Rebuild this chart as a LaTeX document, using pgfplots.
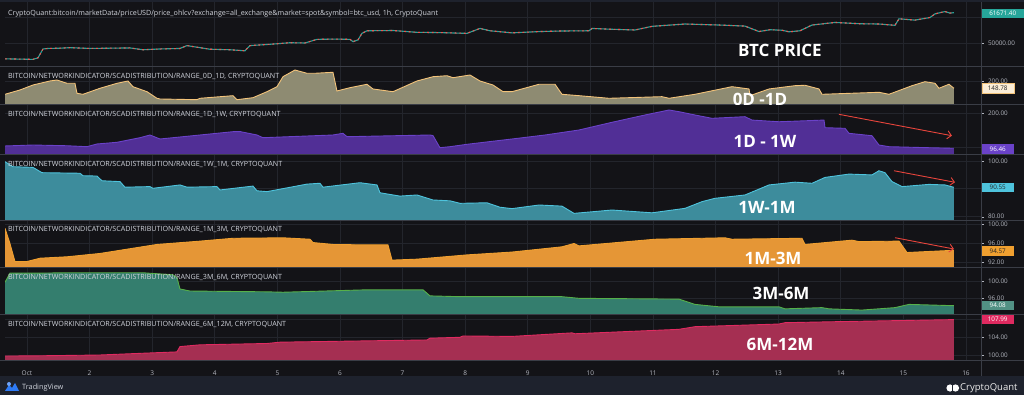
\documentclass[border=0pt]{standalone}
\usepackage{fontspec}
\setmainfont{Open Sans}
\usepackage{pgfplots}
\usepackage{pgfplotstable}
\pgfplotsset{compat=1.18}
\usetikzlibrary{arrows.meta}

\definecolor{bgc}{HTML}{131317}
\definecolor{footc}{HTML}{1E222D}
\definecolor{gridc}{HTML}{23252C}
\definecolor{sepc}{HTML}{3A3D46}
\definecolor{labc}{HTML}{B2B5BE}
\definecolor{titc}{HTML}{D1D4DC}
\definecolor{pgreen}{HTML}{26A69A}
\definecolor{pred}{HTML}{EF5350}
\definecolor{aFill}{HTML}{8E8B72}\definecolor{aLine}{HTML}{F3C37A}
\definecolor{bFill}{HTML}{512F96}\definecolor{bLine}{HTML}{6A42C8}
\definecolor{cFill}{HTML}{3D8C9C}\definecolor{cLine}{HTML}{4EC3DC}
\definecolor{dFill}{HTML}{E59636}\definecolor{dLine}{HTML}{F0A030}
\definecolor{eFill}{HTML}{347E6E}\definecolor{eLine}{HTML}{56B04A}
\definecolor{fFill}{HTML}{A52F52}\definecolor{fLine}{HTML}{E02A60}
\definecolor{arr}{HTML}{E8453C}
\definecolor{tvblue}{HTML}{2E7BF6}

\pgfplotstableread{
x y
0.649 43900
0.888 43800
1.096 43700
1.176 44300
1.256 47700
1.335 47900
1.527 48000
1.687 48200
2.006 47900
2.326 48000
2.645 48100
2.853 47400
3.125 47700
3.444 47900
3.556 49000
3.684 48500
3.923 47600
4.243 47400
4.482 47000
4.562 49000
4.882 49500
5.201 50100
5.441 50000
5.633 51400
5.920 51500
6.160 51400
6.208 50500
6.288 51200
6.351 53700
6.431 54700
6.847 54800
7.230 54100
7.597 54000
8.029 53700
8.236 55600
8.396 54700
8.748 53900
9.195 54400
9.514 54600
9.978 54700
10.026 55600
10.313 55300
10.712 55000
10.984 56400
11.511 57300
12.070 56900
12.470 56500
12.693 54400
12.869 55100
13.061 54900
13.173 54300
13.348 54700
13.540 56900
13.907 57900
14.307 57400
14.610 57300
14.866 56800
14.930 59300
15.185 58800
15.425 59800
15.505 61200
15.665 62100
15.744 61500
15.808 61671
}\tP

\pgfplotstableread{
x y
0.649 106.7
0.888 136.9
1.096 171.9
1.367 200
1.479 207
1.639 183.8
1.767 184
1.799 113.7
1.895 106.7
2.166 148.8
2.438 183.8
2.613 200
2.693 160
2.917 125
3.077 78.7
3.125 73.8
3.716 68.9
3.764 78.7
4.291 96.9
4.355 68.9
4.610 82.9
4.834 125
4.994 160
5.089 230
5.281 277
5.473 253.9
5.601 254
5.888 261
5.952 129.9
6.160 153
6.431 176.8
6.527 143.9
6.847 125
7.230 200
7.486 230
7.709 237
7.805 223
8.077 242
8.236 200
8.444 172
8.604 125
8.748 125
9.179 177
9.435 177
9.546 106.7
9.818 97
10.297 78.7
11.144 90
11.256 78.7
11.671 106.7
12.262 160
12.534 144
12.550 97
12.853 144
13.268 167
13.428 170
13.652 144
13.700 106.7
14.610 120.7
14.770 106.7
15.137 167
15.345 195
15.505 184
15.569 149
15.728 177
15.808 148.78
}\tA

\pgfplotstableread{
x y
0.649 103.3
1.096 106.2
1.639 104
1.958 101.2
2.118 109.2
2.438 114.2
2.805 127.8
2.965 135.8
3.125 124
3.764 135.8
4.291 145.6
4.403 146
4.674 135.8
4.770 127.8
5.888 135.8
6.048 140.8
6.112 130.8
7.438 135.8
7.486 134
7.597 98.2
7.757 101.2
8.029 108.3
8.748 124
9.275 135.8
9.818 150.6
10.345 173.4
10.872 195
11.256 209.8
11.415 204.8
11.671 195
11.942 185.2
12.470 190
12.581 180
13.013 175
13.732 180
13.748 157.4
14.067 155.6
14.131 140.8
14.498 133.7
14.610 106.2
14.770 101.2
15.409 98.2
15.808 96.46
}\tB

\pgfplotstableread{
x y
0.649 99.75
0.776 97.95
1.096 97.7
1.240 95.8
1.847 95.6
1.895 94.7
2.118 94.6
2.198 92.9
2.486 92.6
2.565 90.6
2.965 90.8
3.013 90.2
3.444 91.4
3.556 90.6
4.035 90.8
4.083 89.6
4.610 91.0
4.674 89.3
4.834 89.0
5.473 91.7
5.681 92.0
5.728 90.6
6.319 92.2
6.591 91.4
6.639 88.6
6.958 87.4
7.230 87.8
7.486 86.0
7.757 85.7
7.917 84.8
8.348 85.0
8.556 83.4
8.748 82.9
9.179 84.2
9.546 83.8
9.738 81.2
10.345 82.4
10.984 81.4
11.511 83.0
11.783 85.4
11.990 86.6
12.470 87.8
12.853 91.4
13.268 92.4
13.540 92.0
13.748 94.1
14.131 95.3
14.498 95.0
14.610 96.5
14.706 95.8
14.818 92.6
14.978 90.8
15.409 91.6
15.665 91.4
15.808 90.55
}\tC

\pgfplotstableread{
x y
0.649 99.2
0.728 96.0
0.808 92.2
1.000 92.2
1.208 92.9
1.639 93.2
2.166 93.9
2.693 95.0
3.077 95.8
3.764 96.5
4.291 97.1
5.089 97.2
5.521 96.9
5.569 96.2
5.888 95.8
6.431 95.7
6.767 95.7
6.831 92.5
7.230 92.7
8.029 93.6
8.748 94.2
9.546 95.3
9.738 96.0
9.818 95.5
11.032 96.9
12.150 97.2
12.262 96.9
13.380 97.1
13.428 95.8
14.179 96.7
14.291 96.4
14.930 96.5
15.058 94.1
15.808 94.57
}\tD

\pgfplotstableread{
x y
0.649 99.85
0.728 102.1
1.096 102.1
1.639 102.2
2.853 102.2
3.332 101.7
3.396 101.0
3.444 98.2
3.604 97.7
4.834 97.5
5.089 97.4
6.431 98.0
7.326 98.0
7.438 96.5
7.917 96.3
8.748 96.3
9.546 96.3
9.818 95.9
11.415 95.7
11.671 94.4
12.054 93.8
13.013 93.8
13.109 93.3
13.700 93.6
13.812 93.3
14.339 93.0
14.866 93.6
15.089 94.4
15.808 94.08
}\tE

\pgfplotstableread{
x y
0.649 99.77
1.096 99.8
2.166 100
2.853 100.4
3.396 100.7
3.444 101.9
3.764 102.3
4.834 102.6
5.042 102.9
7.390 103.4
7.438 103.8
7.917 104.0
7.965 104.3
8.748 104.2
9.706 105.0
9.754 104.8
11.415 105.8
11.671 106.4
13.013 107.0
13.109 107.3
13.812 107.5
15.808 108.0
}\tF

\pgfplotsset{
 pane/.style={
  scale only axis, width=976pt, xmin=0.649, xmax=16.24,
  anchor=south west,
  axis line style={draw=none},
  xtick={1,...,16}, xticklabels={},
  xmajorgrids, ymajorgrids,
  grid style={draw=gridc, line width=0.7pt},
  xtick style={draw=none},
  ytick pos=right, tick align=outside, major tick length=3pt,
  ytick style={draw=labc, line width=0.4pt},
  scaled y ticks=false,
  yticklabel style={font=\fontsize{6.3}{7}\selectfont, text=labc, xshift=0.5pt,
    /pgf/number format/fixed, /pgf/number format/fixed zerofill,
    /pgf/number format/precision=2, /pgf/number format/1000 sep={},
    /pgf/number format/assume math mode=true},
 }
}
\tikzset{
 ttl/.style={anchor=base west, text=titc, font=\fontsize{7.15}{8}\selectfont, inner sep=0pt},
 big/.style={anchor=base, text=white, font=\bfseries\fontsize{17}{20}\selectfont, inner sep=0pt},
 badge/.style={anchor=west, font=\fontsize{6.3}{7}\selectfont, minimum height=9.5pt, minimum width=32pt, inner sep=1pt},
 arrw/.style={draw=arr, line width=0.9pt, -{Straight Barb[length=4pt,width=8pt]}},
}

\begin{document}
\begin{tikzpicture}
\fill[bgc] (0,0) rectangle (1024pt,395pt);
\useasboundingbox (0,0) rectangle (1024pt,395pt);
\fill[footc] (0,393pt) rectangle (1024pt,395pt);

% price
\begin{axis}[pane, at={(5pt,329pt)}, height=64pt, ymin=41154, ymax=65769, ytick={50000,60000},
  yticklabels={50000.00,{}}]
\addplot[pgreen, line width=1.1pt] table[x=x,y=y]{\tP};
\addplot[pred, line width=1.1pt, dash pattern=on 1.8pt off 2.8pt] table[x=x,y=y]{\tP};
\end{axis}

% 0D-1D
\begin{axis}[pane, at={(5pt,291pt)}, height=37pt, ymin=38.7, ymax=298.1, ytick={200}]
\addplot[fill=aFill, draw=none] table[x=x,y=y]{\tA} \closedcycle;
\addplot[aLine, line width=0.9pt] table[x=x,y=y]{\tA};
\end{axis}

% 1D-1W
\begin{axis}[pane, at={(5pt,241pt)}, height=49pt, ymin=79.6, ymax=224.6, ytick={100,200}]
\addplot[fill=bFill, draw=none] table[x=x,y=y]{\tB} \closedcycle;
\addplot[bLine, line width=0.9pt] table[x=x,y=y]{\tB};
\draw[arrw] (axis cs:13.971,197) -- (axis cs:15.776,133.7);
\end{axis}

% 1W-1M
\begin{axis}[pane, at={(5pt,175pt)}, height=65pt, ymin=78.82, ymax=102.15, ytick={80,90,100}]
\addplot[fill=cFill, draw=none] table[x=x,y=y]{\tC} \closedcycle;
\addplot[cLine, line width=0.9pt] table[x=x,y=y]{\tC};
\draw[arrw] (axis cs:14.850,96.5) -- (axis cs:15.824,92.35);
\end{axis}

% 1M-3M
\begin{axis}[pane, at={(5pt,128pt)}, height=46pt, ymin=91.05, ymax=100.74, ytick={92,96,100}]
\addplot[fill=dFill, draw=none] table[x=x,y=y]{\tD} \closedcycle;
\addplot[dLine, line width=0.9pt] table[x=x,y=y]{\tD};
\draw[arrw] (axis cs:14.866,97.22) -- (axis cs:15.808,94.84);
\end{axis}

% 3M-6M
\begin{axis}[pane, at={(5pt,81pt)}, height=46pt, ymin=92.03, ymax=103.38, ytick={96,100}]
\addplot[fill=eFill, draw=none] table[x=x,y=y]{\tE} \closedcycle;
\addplot[eLine, line width=0.9pt] table[x=x,y=y]{\tE};
\end{axis}

% 6M-12M
\begin{axis}[pane, at={(5pt,35pt)}, height=45pt, ymin=98.87, ymax=109.04, ytick={100,104,108},
  xticklabels={Oct,2,3,4,5,6,7,8,9,10,11,12,13,14,15,16},
  xticklabel style={font=\fontsize{6.5}{7}\selectfont, text=labc, anchor=base, yshift=-12.5pt}]
\addplot[fill=fFill, draw=none] table[x=x,y=y]{\tF} \closedcycle;
\addplot[fLine, line width=0.9pt] table[x=x,y=y]{\tF};
\end{axis}

% separators
\foreach \yy in {328.5,290.5,240.5,174.5,127.5,80.5,34.5}
  \draw[sepc, line width=0.9pt] (0,\yy pt) -- (1024pt,\yy pt);
\draw[sepc, line width=0.9pt] (981.5pt,19pt) -- (981.5pt,393pt);

% titles
\node[ttl] at (8pt,379.3pt) {CryptoQuant:bitcoin/marketData/priceUSD/price\_ohlcv?exchange=all\_exchange\&market=spot\&symbol=btc\_usd, 1h, CryptoQuant};
\node[ttl] at (8pt,316.6pt) {BITCOIN/NETWORKINDICATOR/SCADISTRIBUTION/RANGE\_0D\_1D, CRYPTOQUANT};
\node[ttl] at (8pt,278.6pt) {BITCOIN/NETWORKINDICATOR/SCADISTRIBUTION/RANGE\_1D\_1W, CRYPTOQUANT};
\node[ttl] at (8pt,228.6pt) {BITCOIN/NETWORKINDICATOR/SCADISTRIBUTION/RANGE\_1W\_1M, CRYPTOQUANT};
\node[ttl] at (8pt,163.6pt) {BITCOIN/NETWORKINDICATOR/SCADISTRIBUTION/RANGE\_1M\_3M, CRYPTOQUANT};
\node[ttl] at (8pt,115.6pt) {BITCOIN/NETWORKINDICATOR/SCADISTRIBUTION/RANGE\_3M\_6M, CRYPTOQUANT};
\node[ttl] at (8pt,68.6pt) {BITCOIN/NETWORKINDICATOR/SCADISTRIBUTION/RANGE\_6M\_12M, CRYPTOQUANT};

% big labels
\node[big] at (780pt,338.5pt) {BTC PRICE};
\begin{scope}
\clip (0,290.5pt) rectangle (1024pt,328pt);
\node[big] at (760pt,289pt) {0D -1D};
\end{scope}
\node[big] at (765pt,247pt) {1D - 1W};
\node[big] at (767pt,181pt) {1W-1M};
\node[big] at (773pt,130.5pt) {1M-3M};
\node[big] at (781pt,95.2pt) {3M-6M};
\node[big] at (780pt,44.2pt) {6M-12M};

% badges
\node[badge, fill=pgreen, text=white, minimum width=42pt] at (981.5pt,381.7pt) {61671.40};
\node[badge, fill=aLine!30!white, text=black!85, draw=aLine, line width=0.4pt] at (981.5pt,306.7pt) {148.78};
\node[badge, fill=bLine, text=white] at (981.5pt,246pt) {96.46};
\node[badge, fill=cLine, text=black!85] at (981.5pt,207.3pt) {90.55};
\node[badge, fill=dLine, text=black!85] at (981.5pt,144pt) {94.57};
\node[badge, fill=eFill!85!white, text=white] at (981.5pt,89.3pt) {94.08};
\node[badge, fill=fLine, text=white] at (981.5pt,75.5pt) {107.99};

% footer
\fill[footc] (0,0) rectangle (1024pt,19pt);
\fill[tvblue] (5pt,4pt) -- (9pt,10pt) -- (12pt,7pt) -- (15pt,12pt) -- (19pt,4pt) -- cycle;
\fill[tvblue!70!white] (9pt,11pt) circle (2pt);
\node[anchor=west, text=titc, font=\fontsize{7.3}{8}\selectfont, inner sep=0pt] at (22pt,7pt) {TradingView};
\fill[white] (950pt,7pt) circle (3.6pt);
\fill[white] (955.5pt,7pt) circle (3.6pt);
\draw[footc, line width=0.8pt] (952.8pt,3pt) -- (952.8pt,11pt);
\node[anchor=west, text=white!92!black, font=\fontsize{9.5}{10}\selectfont, inner sep=0pt] at (960pt,7pt) {CryptoQuant};
\end{tikzpicture}
\end{document}
